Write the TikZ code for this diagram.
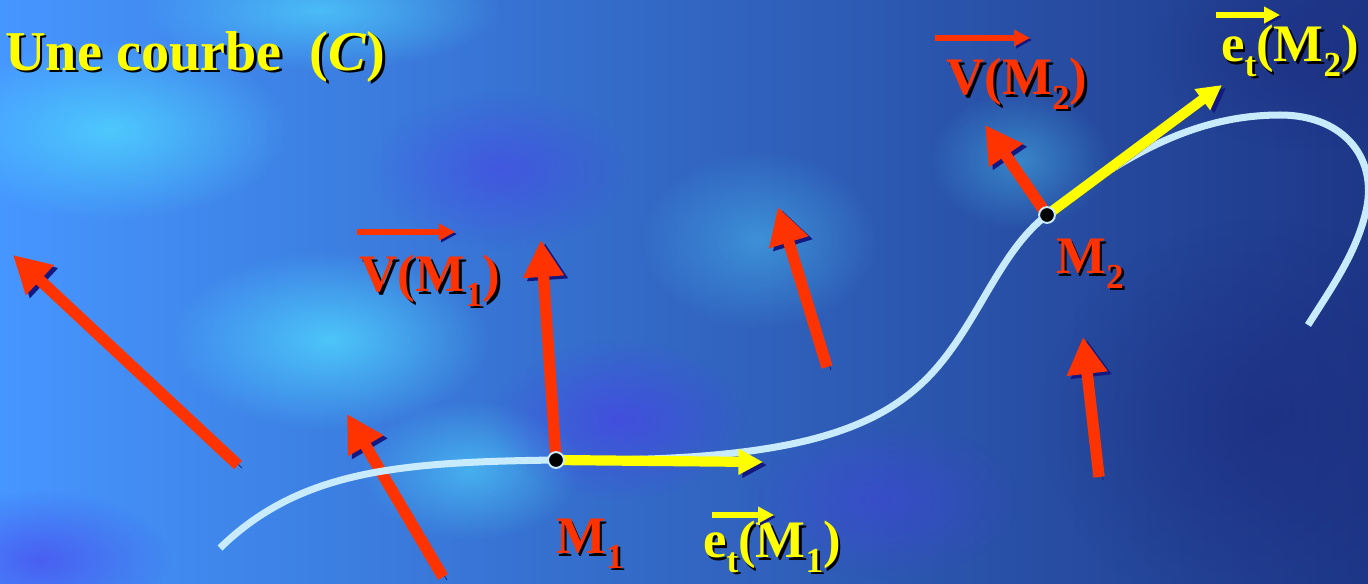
\documentclass[tikz,border=0pt]{standalone}
\usepackage{fontspec}
\setmainfont{Liberation Serif}
\usetikzlibrary{arrows.meta, positioning, fadings, calc}

\definecolor{arrred}{RGB}{255,51,0}
\definecolor{arryellow}{RGB}{255,255,0}
\definecolor{shadowblue}{RGB}{20,25,130}
\definecolor{curvecol}{RGB}{200,235,255}
\definecolor{bgleft}{RGB}{70,150,255}
\definecolor{bgmid}{RGB}{45,95,235}
\definecolor{bgright}{RGB}{30,55,135}
\definecolor{bgcyan}{RGB}{80,215,255}
\definecolor{bgviolet}{RGB}{75,60,235}
\definecolor{bgnavy}{RGB}{28,42,125}

\tikzfading[name=softblob, inner color=transparent!0, outer color=transparent!100]

% text with a dark drop shadow
\newcommand{\shd}[1]{\rlap{\hspace{1.5pt}\raisebox{-1.5pt}{\color{black}#1}}#1}
\newcommand{\subsc}[1]{\raisebox{-0.6ex}{\fontsize{20}{22}\selectfont #1}}

\begin{document}
\begin{tikzpicture}[x=0.02cm, y=-0.02cm,
  redarr/.style={draw=arrred, line width=6.5pt, -{Triangle[length=21pt, width=22pt]},
    preaction={draw=shadowblue, transform canvas={shift={(4,3)}}}},
  yelarr/.style={draw=arryellow, line width=5.8pt, -{Triangle[length=14pt, width=14pt]},
    preaction={draw=shadowblue, transform canvas={shift={(4,3)}}}},
  ovrred/.style={draw=arrred, line width=3pt, -{Triangle[length=9pt, width=9pt]},
    preaction={draw=shadowblue, transform canvas={shift={(2,2)}}}},
  ovryel/.style={draw=arryellow, line width=3pt, -{Triangle[length=9pt, width=9pt]},
    preaction={draw=shadowblue, transform canvas={shift={(2,2)}}}},
  blob/.style={path fading=softblob},
  curve/.style={draw=curvecol, line width=4pt},
  dot/.style={circle, fill=black, draw=curvecol, line width=1.1pt, minimum size=9pt, inner sep=0pt},
  title/.style={text=arryellow, font=\fontsize{32}{38}\selectfont\bfseries, inner sep=0pt},
  redlbl/.style={text=arrred, font=\fontsize{30}{36}\selectfont\bfseries, inner sep=0pt},
  yellbl/.style={text=arryellow, font=\fontsize{30}{36}\selectfont\bfseries, inner sep=0pt}
]
% background
\useasboundingbox (0,0) rectangle (1368,583);
\shade[left color=bgleft, middle color=bgmid, right color=bgright] (0,0) rectangle (1368,583);
\fill[bgcyan, blob, opacity=0.8] (110,130) ellipse (180 and 90);
\fill[bgcyan, blob, opacity=0.8] (330,340) ellipse (160 and 90);
\fill[bgcyan, blob, opacity=0.6] (470,470) ellipse (110 and 70);
\fill[bgcyan, blob, opacity=0.7] (320,10) ellipse (180 and 60);
\fill[bgcyan, blob, opacity=0.4] (760,240) ellipse (120 and 90);
\fill[bgcyan, blob, opacity=0.4] (1020,160) ellipse (90 and 70);
\fill[bgviolet, blob, opacity=0.6] (620,420) ellipse (130 and 80);
\fill[bgviolet, blob, opacity=0.5] (500,170) ellipse (130 and 80);
\fill[bgviolet, blob, opacity=0.6] (40,560) ellipse (130 and 70);
\fill[bgviolet, blob, opacity=0.4] (880,500) ellipse (140 and 80);
\fill[bgnavy, blob, opacity=0.6] (1260,420) ellipse (220 and 200);
\fill[bgnavy, blob, opacity=0.5] (1310,50) ellipse (160 and 100);

% points of the curve and arrow ends
\coordinate (C0) at (220,548);
\coordinate (M1) at (556,460);
\coordinate (M2) at (1047,215);
\coordinate (C3) at (1308,325);
\coordinate (v1) at (541,240);
\coordinate (v2) at (985,125);
\coordinate (t1) at (763,462);
\coordinate (t2) at (1222,85);

% velocity field
\coordinate (a1) at (238,465); \coordinate (b1) at (13,255);
\coordinate (a2) at (443,577); \coordinate (b2) at (347,414);
\coordinate (a3) at (827,367); \coordinate (b3) at (778,207);
\coordinate (a4) at (1099,477); \coordinate (b4) at (1083,337);
\foreach \i in {1,...,4}
  \draw[redarr] (a\i) -- (b\i);

% the curve (C)
\draw[curve] (C0) .. controls (300,470) and (400,462) .. (M1)
  .. controls (760,462) and (860,440) .. (920,385)
  .. controls (975,335) and (995,255) .. (M2)
  .. controls (1130,150) and (1200,115) .. (1280,115)
  .. controls (1345,115) and (1380,160) .. (1365,215)
  .. controls (1355,255) and (1330,290) .. (C3);

\draw[redarr] (M1) -- (v1);
\draw[redarr] (M2) -- (v2);
\draw[yelarr] (M1) -- (t1);
\draw[yelarr] (M2) -- (t2);
\node[dot] (dotM1) at (M1) {};
\node[dot] (dotM2) at (M2) {};

% labels
\node[title, anchor=base west] (title) at (5,70) {\shd{Une courbe\ \ (\textit{C})}};
\node[redlbl] (vm1) at (430,282) {\shd{V(M\subsc{1})}};
\node[redlbl] (vm2) at (1017,85) {\shd{V(M\subsc{2})}};
\node[redlbl] (m1lbl) at (590,545) {\shd{M\subsc{1}}};
\node[redlbl] (m2lbl) at (1090,265) {\shd{M\subsc{2}}};
\node[yellbl] (em1) at (772,548) {\shd{e\subsc{t}(M\subsc{1})}};
\node[yellbl] (em2) at (1290,52) {\shd{e\subsc{t}(M\subsc{2})}};
\draw[ovrred] ([shift={(-73,-50)}]vm1.center) -- ++(98,0);
\draw[ovrred] ([shift={(-82,-47)}]vm2.center) -- ++(95,0);
\draw[ovryel] ([shift={(-60,-33)}]em1.center) -- ++(62,0);
\draw[ovryel] ([shift={(-74,-37)}]em2.center) -- ++(64,0);
\end{tikzpicture}
\end{document}
